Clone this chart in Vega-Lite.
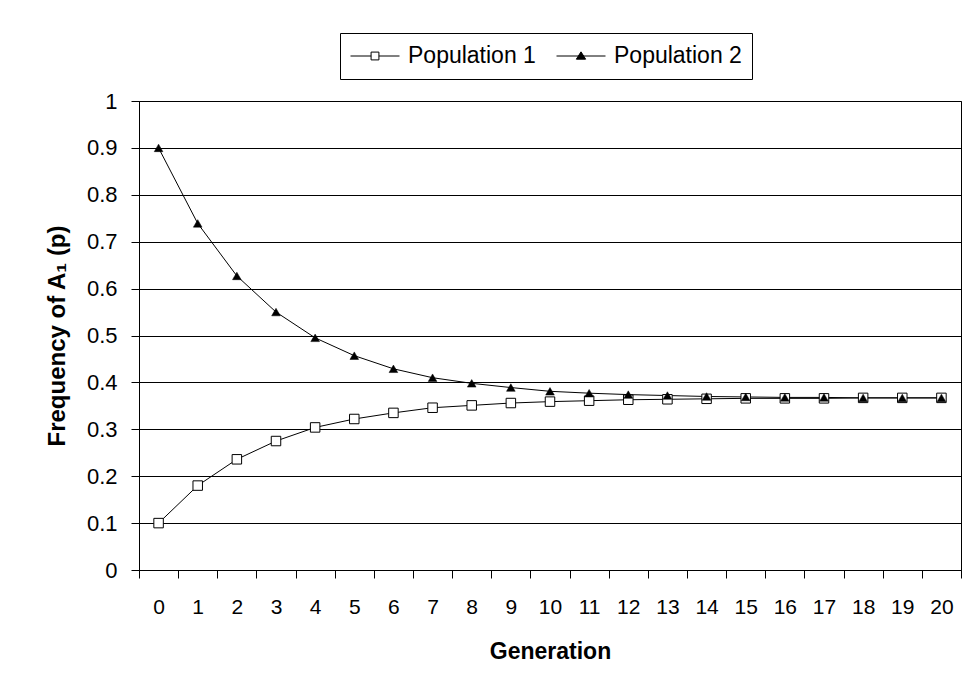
{
  "$schema": "https://vega.github.io/schema/vega-lite/v6.json",
  "width": 822,
  "height": 469,
  "autosize": {"type": "none"},
  "padding": {"left": 139, "top": 101, "right": 14, "bottom": 123},
  "background": "white",
  "config": {
    "font": "Liberation Sans",
    "view": {"stroke": "black", "strokeWidth": 1},
    "axis": {"labelColor": "black", "titleColor": "black", "domainColor": "black", "tickColor": "black", "gridColor": "black", "gridOpacity": 1}
  },
  "data": {
    "values": [
      {"gen": 0, "series": "Population 1", "p": 0.1},
      {"gen": 1, "series": "Population 1", "p": 0.18},
      {"gen": 2, "series": "Population 1", "p": 0.236},
      {"gen": 3, "series": "Population 1", "p": 0.275},
      {"gen": 4, "series": "Population 1", "p": 0.304},
      {"gen": 5, "series": "Population 1", "p": 0.322},
      {"gen": 6, "series": "Population 1", "p": 0.335},
      {"gen": 7, "series": "Population 1", "p": 0.346},
      {"gen": 8, "series": "Population 1", "p": 0.351},
      {"gen": 9, "series": "Population 1", "p": 0.356},
      {"gen": 10, "series": "Population 1", "p": 0.359},
      {"gen": 11, "series": "Population 1", "p": 0.361},
      {"gen": 12, "series": "Population 1", "p": 0.363},
      {"gen": 13, "series": "Population 1", "p": 0.364},
      {"gen": 14, "series": "Population 1", "p": 0.365},
      {"gen": 15, "series": "Population 1", "p": 0.366},
      {"gen": 16, "series": "Population 1", "p": 0.366},
      {"gen": 17, "series": "Population 1", "p": 0.366},
      {"gen": 18, "series": "Population 1", "p": 0.367},
      {"gen": 19, "series": "Population 1", "p": 0.367},
      {"gen": 20, "series": "Population 1", "p": 0.367},
      {"gen": 0, "series": "Population 2", "p": 0.9},
      {"gen": 1, "series": "Population 2", "p": 0.739},
      {"gen": 2, "series": "Population 2", "p": 0.627},
      {"gen": 3, "series": "Population 2", "p": 0.55},
      {"gen": 4, "series": "Population 2", "p": 0.495},
      {"gen": 5, "series": "Population 2", "p": 0.457},
      {"gen": 6, "series": "Population 2", "p": 0.429},
      {"gen": 7, "series": "Population 2", "p": 0.41},
      {"gen": 8, "series": "Population 2", "p": 0.398},
      {"gen": 9, "series": "Population 2", "p": 0.389},
      {"gen": 10, "series": "Population 2", "p": 0.381},
      {"gen": 11, "series": "Population 2", "p": 0.377},
      {"gen": 12, "series": "Population 2", "p": 0.374},
      {"gen": 13, "series": "Population 2", "p": 0.372},
      {"gen": 14, "series": "Population 2", "p": 0.37},
      {"gen": 15, "series": "Population 2", "p": 0.369},
      {"gen": 16, "series": "Population 2", "p": 0.368},
      {"gen": 17, "series": "Population 2", "p": 0.368},
      {"gen": 18, "series": "Population 2", "p": 0.367},
      {"gen": 19, "series": "Population 2", "p": 0.367},
      {"gen": 20, "series": "Population 2", "p": 0.367}
    ]
  },
  "encoding": {
    "x": {
      "field": "gen", "type": "ordinal", "bandPosition": 0.5,
      "scale": {"type": "band", "paddingInner": 0, "paddingOuter": 0},
      "axis": {
        "title": "Generation", "labelAngle": 0, "tickBand": "extent",
        "labelFontSize": 21, "titleFontSize": 23, "titleFontWeight": "bold",
        "tickSize": 8, "labelPadding": 18, "titlePadding": 23,
        "domainWidth": 1, "tickWidth": 1
      }
    },
    "y": {
      "field": "p", "type": "quantitative",
      "scale": {"domain": [0, 1], "nice": false, "zero": true},
      "axis": {
        "title": "Frequency of A₁ (p)",
        "values": [0, 0.1, 0.2, 0.3, 0.4, 0.5, 0.6, 0.7, 0.8, 0.9, 1],
        "format": ".1~f", "grid": true, "gridWidth": 1,
        "labelFontSize": 22, "titleFontSize": 24, "titleFontWeight": "bold",
        "tickSize": 8, "labelPadding": 14, "titlePadding": 17,
        "domainWidth": 1, "tickWidth": 1
      }
    }
  },
  "layer": [
    {
      "mark": {"type": "line", "stroke": "black", "strokeWidth": 1},
      "encoding": {"detail": {"field": "series"}}
    },
    {
      "transform": [{"filter": "datum.series === 'Population 1'"}],
      "mark": {"type": "point", "shape": "square", "size": 90, "filled": true, "fill": "white", "stroke": "black", "strokeWidth": 1, "opacity": 1}
    },
    {
      "transform": [{"filter": "datum.series === 'Population 2'"}],
      "mark": {"type": "point", "shape": "triangle-up", "size": 75, "filled": true, "fill": "black", "stroke": "black", "strokeWidth": 0.5, "opacity": 1}
    },
    {
      "mark": {"type": "point", "filled": true, "opacity": 0, "strokeWidth": 1},
      "encoding": {
        "shape": {
          "field": "series", "type": "nominal",
          "scale": {
            "domain": ["Population 1", "Population 2"],
            "range": [
              "M-1,0H-0.16M0.16,0H1M-0.16,-0.16H0.16V0.16H-0.16Z",
              "M-1,0H1M0,-0.17L0.19,0.13L-0.19,0.13Z"
            ]
          },
          "legend": {
            "title": null, "orient": "none", "direction": "horizontal", "columns": 2,
            "legendX": 201, "legendY": -68,
            "symbolSize": 2401, "symbolOpacity": 1, "symbolStrokeColor": "black", "symbolStrokeWidth": 1,
            "labelFontSize": 23, "labelColor": "black", "labelOffset": 8, "columnPadding": 20,
            "clipHeight": 26,
            "padding": 10, "strokeColor": "black", "fillColor": "white"
          }
        },
        "fill": {
          "field": "series", "type": "nominal",
          "scale": {"domain": ["Population 1", "Population 2"], "range": ["white", "black"]},
          "legend": {
            "title": null, "orient": "none", "direction": "horizontal", "columns": 2,
            "legendX": 201, "legendY": -68,
            "symbolSize": 2401, "symbolOpacity": 1, "symbolStrokeColor": "black", "symbolStrokeWidth": 1,
            "labelFontSize": 23, "labelColor": "black", "labelOffset": 8, "columnPadding": 20,
            "clipHeight": 26,
            "padding": 10, "strokeColor": "black", "fillColor": "white"
          }
        },
        "stroke": {
          "field": "series", "type": "nominal",
          "scale": {"domain": ["Population 1", "Population 2"], "range": ["black", "black"]},
          "legend": {
            "title": null, "orient": "none", "direction": "horizontal", "columns": 2,
            "legendX": 201, "legendY": -68,
            "symbolSize": 2401, "symbolOpacity": 1, "symbolStrokeColor": "black", "symbolStrokeWidth": 1,
            "labelFontSize": 23, "labelColor": "black", "labelOffset": 8, "columnPadding": 20,
            "clipHeight": 26,
            "padding": 10, "strokeColor": "black", "fillColor": "white"
          }
        }
      }
    }
  ]
}
